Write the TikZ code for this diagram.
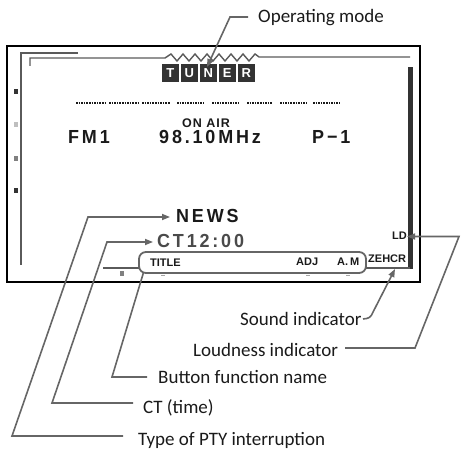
\documentclass[tikz,border=0pt]{standalone}
\usepackage{fontspec}
\setmainfont{Carlito}
\newfontfamily\lcd[FakeStretch=0.95,LetterSpace=15]{Liberation Sans}
\newfontfamily\lcdon[LetterSpace=8]{Liberation Sans}
\newfontfamily\lcds{Liberation Sans}
\usetikzlibrary{arrows.meta}
\definecolor{leadgray}{HTML}{666666}
\definecolor{innergray}{HTML}{5A5A5A}
\definecolor{bardark}{HTML}{333333}
\definecolor{ctgray}{HTML}{4A4A4A}
\definecolor{txt}{HTML}{1A1A1A}
\begin{document}
\begin{tikzpicture}[x=1pt,y=-1pt,
  lbl/.style={inner sep=0pt,anchor=base west,text=txt,font=\fontsize{19}{21}\selectfont},
  lcdt/.style={inner sep=0pt,anchor=base west,text=txt,font=\lcd\bfseries\fontsize{18.9}{20}\selectfont},
  smallt/.style={inner sep=0pt,anchor=base west,text=txt,font=\lcds\bfseries\fontsize{11}{12}\selectfont},
  tunerbox/.style={fill=bardark,draw=none,minimum width=17.5pt,minimum height=17.5pt,inner sep=0pt,text=white,font=\lcds\bfseries\fontsize{13}{13}\selectfont},
  lead/.style={draw=leadgray,line width=1.6pt},
  leadarrow/.style={lead,-{Triangle[length=8pt,width=6pt]}},
  innerline/.style={draw=innergray,line width=1.4pt},
  dots/.style={draw=txt,line width=2pt,dash pattern=on 1.6pt off 1pt},
  mark/.style={fill=#1,draw=none}
]
\useasboundingbox (0,0) rectangle (462,454);

% outer frame
\draw[line width=2.6pt,black] (7,46) rectangle (420,282);

% inner decoration lines
\draw[innerline] (78,53) -- (21,53) -- (21,265);
\draw[innerline] (30,66) -- (30,58) -- (165,58) -- (171,54) -- (177,61) -- (183,54) -- (189,61) -- (195,54) -- (201,61) -- (207,54) -- (213,61) -- (219,54) -- (225,61) -- (231,54) -- (237,61) -- (243,54) -- (249,61) -- (255,54) -- (259,57) -- (410,57);
\fill[bardark] (408,67) rectangle (412.5,269);
\draw[innerline] (366,268) -- (410,268);
\draw[innerline] (103,268) -- (139,268);

% left indicator squares
\fill[mark=bardark] (14,89) rectangle (18,94);
\fill[mark=gray!50] (14,122) rectangle (18,127);
\fill[mark=gray] (14,156) rectangle (18,161);
\fill[mark=bardark] (14,188) rectangle (18,193);

% bottom small marks
\fill[mark=gray] (120,271) rectangle (124,276);
\fill[mark=gray!70] (161,275) rectangle (165,276.2);
\fill[mark=gray!70] (306,275) rectangle (310,276.2);
\fill[mark=gray!70] (346,275) rectangle (350,276.2);

% TUNER
\node[tunerbox] (bT) at (170.25,73.25) {T};
\node[tunerbox] (bU) at (189.25,73.25) {U};
\node[tunerbox] (bN) at (208.25,73.25) {N};
\node[tunerbox] (bE) at (227.25,73.25) {E};
\node[tunerbox] (bR) at (246.25,73.25) {R};

% dotted row
\foreach \a/\b in {76/105,109/138,142/170,177/204,212/239,247/273,280/307,313/340}
  \draw[dots] (\a,103) -- (\b,103);

% display texts
\node[inner sep=0pt,anchor=base west,text=txt,font=\lcdon\bfseries\fontsize{12.5}{13}\selectfont] (onair) at (182,128) {ON AIR};
\node[lcdt] (fm) at (68,144) {FM1};
\node[lcdt] (freq) at (159,144) {98.10MHz};
\node[lcdt] (pre) at (312,144) {P−1};
\node[lcdt] (news) at (176,222) {NEWS};
\node[lcdt,text=ctgray] (ct) at (157,247) {CT12:00};
\node[smallt] (title) at (150,266.5) {TITLE};
\node[smallt] (adj) at (296,265) {ADJ};
\node[smallt] (am) at (337,265) {A.\hspace{2pt}M};
\node[smallt] (zeh) at (368,262) {ZEHCR};
\node[smallt] (ld) at (392,239.5) {LD};

% button function box
\draw[draw=leadgray,line width=1.8pt,rounded corners=7pt] (139,252) rectangle (366,273);
\coordinate (btnbox) at (143.5,272.5);

% labels
\node[lbl] (opm) at (258,23) {Operating mode};
\node[lbl] (snd) at (240,325) {Sound indicator};
\node[lbl] (loud) at (193,356) {Loudness indicator};
\node[lbl] (btn) at (158,383) {Button function name};
\node[lbl] (ctl) at (143,413) {CT (time)};
\node[lbl] (pty) at (138,445) {Type of PTY interruption};

% leader coordinates
\coordinate (opmA) at (248,17);
\coordinate (opmB) at (230,17);
\coordinate (opmT) at (207,67);
\coordinate (sndA) at (363,319);
\coordinate (sndB) at (370,318);
\coordinate (sndT) at (395,269);
\coordinate (loudA) at (345,348);
\coordinate (loudB) at (415,348);
\coordinate (loudC) at (459,236.5);
\coordinate (loudT) at (407,236.5);
\coordinate (btnA) at (147,377);
\coordinate (btnB) at (112,377);
\coordinate (ctA) at (133,403);
\coordinate (ctB) at (52,403);
\coordinate (ctC) at (107,242);
\coordinate (ctT) at (153,242);
\coordinate (ptyA) at (123,436);
\coordinate (ptyB) at (12,436);
\coordinate (ptyC) at (88,217);
\coordinate (ptyT) at (170,217);

% leaders
\draw[leadarrow] (opmA) -- (opmB) -- (opmT);
\draw[leadarrow,rounded corners=3pt] (sndA) -- (sndB) -- (sndT);
\draw[leadarrow] (loudA) -- (loudB) -- (loudC) -- (loudT);
\draw[lead] (btnA) -- (btnB) -- (btnbox);
\draw[leadarrow] (ctA) -- (ctB) -- (ctC) -- (ctT);
\draw[leadarrow] (ptyA) -- (ptyB) -- (ptyC) -- (ptyT);
\end{tikzpicture}
\end{document}
